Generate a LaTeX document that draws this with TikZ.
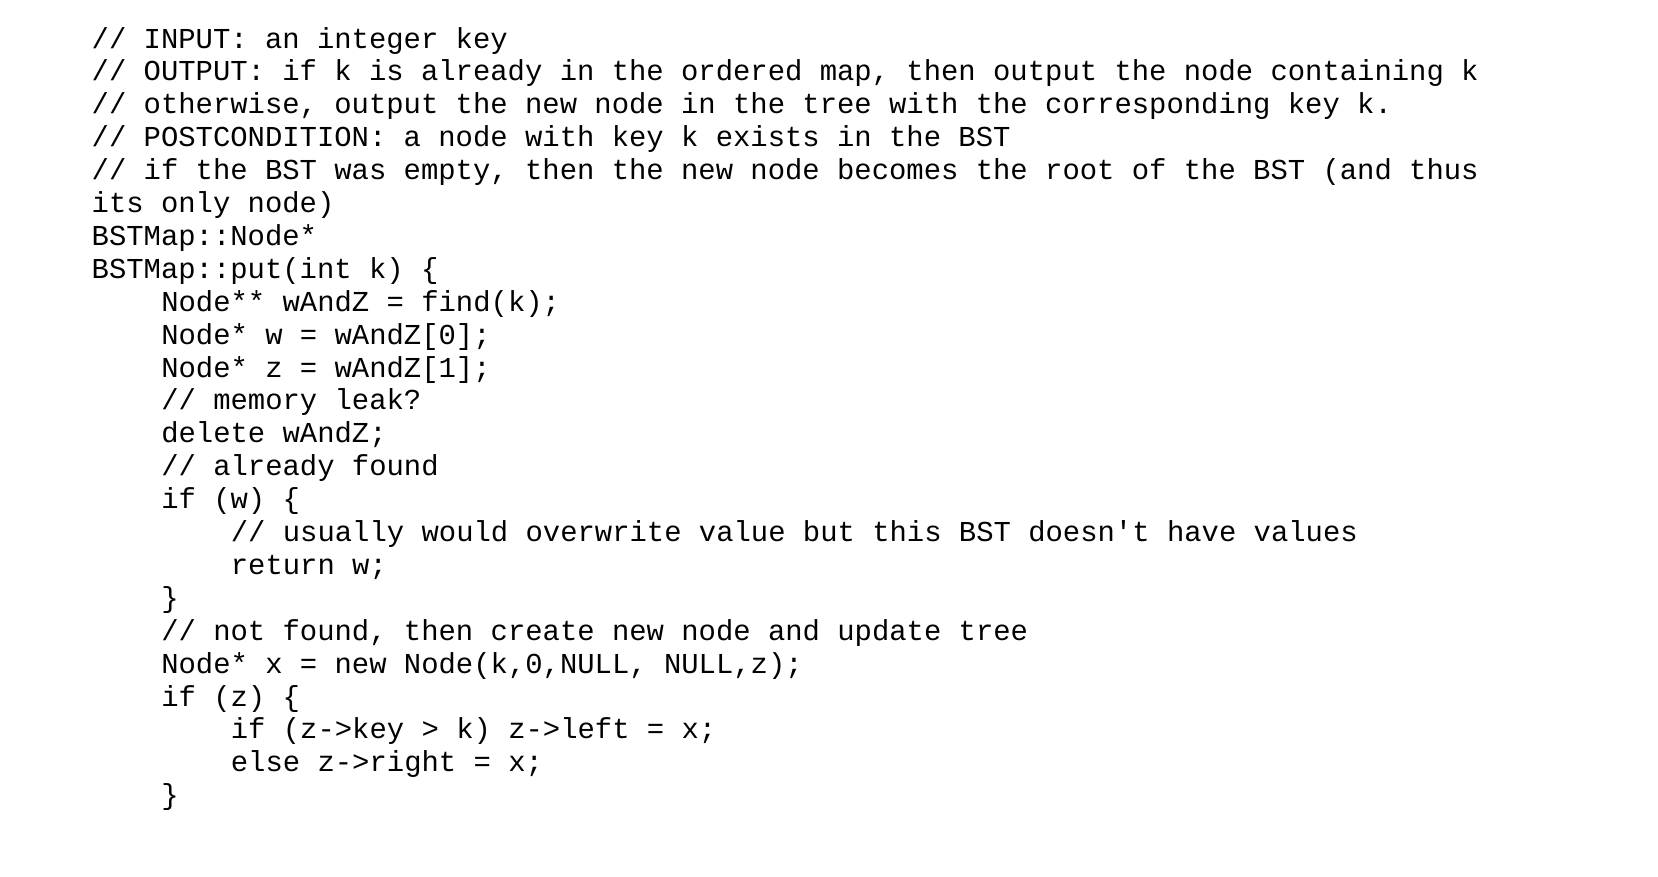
\documentclass[tikz,border=0pt]{standalone}
\usepackage{fontspec}
\newfontfamily\codefont{Liberation Mono}
\begin{document}
\begin{tikzpicture}[x=1bp,y=1bp,
  codeline/.style={anchor=base west,inner sep=0pt,font=\codefont\fontsize{29}{33}\selectfont}]
\useasboundingbox[fill=white] (0,0) rectangle (1658,-876);
\def\ind{69.6}
\foreach \i/\lvl/\t in {
0/0/{// INPUT: an integer key},
1/0/{// OUTPUT: if k is already in the ordered map, then output the node containing k},
2/0/{// otherwise, output the new node in the tree with the corresponding key k.},
3/0/{// POSTCONDITION: a node with key k exists in the BST},
4/0/{// if the BST was empty, then the new node becomes the root of the BST (and thus},
5/0/{its only node)},
6/0/{BSTMap::Node*},
7/0/{BSTMap::put(int k) \{},
8/1/{Node** wAndZ = find(k);},
9/1/{Node* w = wAndZ[0];},
10/1/{Node* z = wAndZ[1];},
11/1/{// memory leak?},
12/1/{delete wAndZ;},
13/1/{// already found},
14/1/{if (w) \{},
15/2/{// usually would overwrite value but this BST doesn't have values},
16/2/{return w;},
17/1/{\}},
18/1/{// not found, then create new node and update tree},
19/1/{Node* x = new Node(k,0,NULL, NULL,z);},
20/1/{if (z) \{},
21/2/{if (z->key > k) z->left = x;},
22/2/{else z->right = x;},
23/1/{\}}}
  \node[codeline] (l\i) at ({91.5+\lvl*\ind},{-48-32.9*\i}) {\t};
\end{tikzpicture}
\end{document}
